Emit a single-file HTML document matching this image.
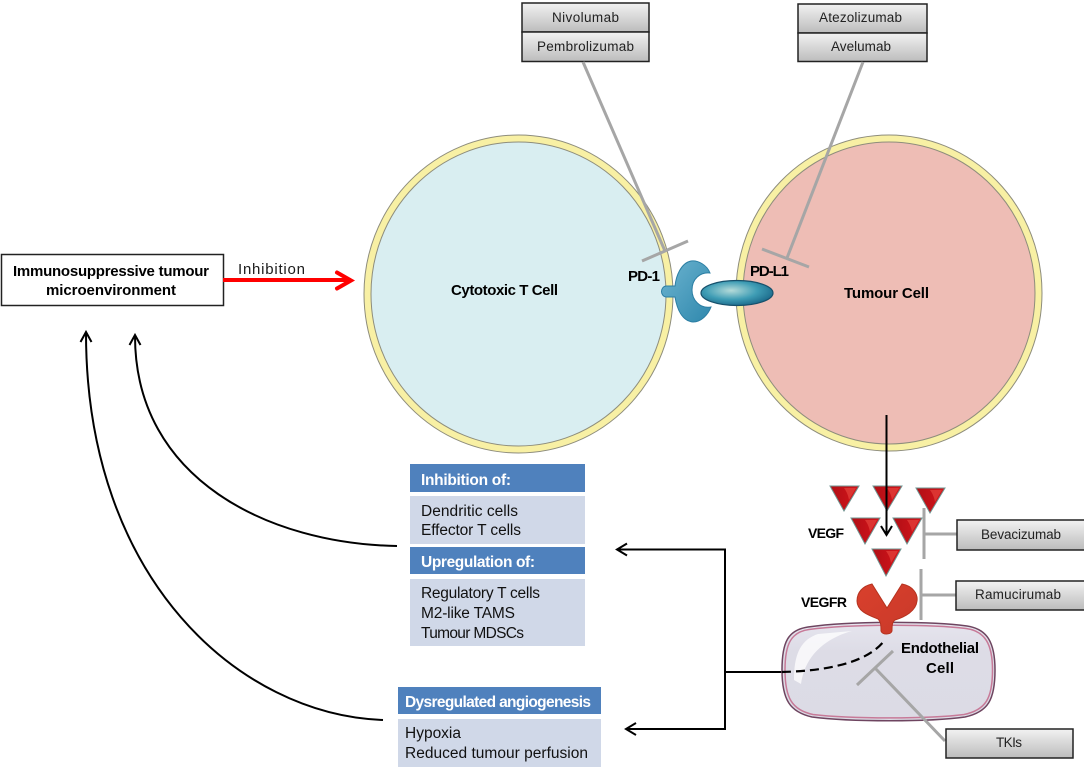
<!DOCTYPE html>
<html>
<head>
<meta charset="utf-8">
<style>
html,body{margin:0;padding:0;background:#fff;width:1084px;height:770px;overflow:hidden}
svg{display:block}
text{font-family:"Liberation Sans",sans-serif;font-size:15px;fill:#1a1a1a}
.b{font-weight:bold;fill:#000;font-size:15px}
.v{font-weight:bold;fill:#000;font-size:14px}
.w{font-weight:bold;fill:#fff;font-size:15.5px}
.d{font-size:15.5px;fill:#111}
.g{font-size:13.5px;fill:#222}
.gl{stroke:#a6a6a6;stroke-width:3;fill:none}
.k{stroke:#000;stroke-width:2;fill:none}
.tri{fill:url(#tg);stroke:#6f9491;stroke-width:1}
.hl{fill:#e2403a;opacity:.75}
.box{fill:url(#bg);stroke:#222;stroke-width:1.5}
</style>
</head>
<body>
<svg width="1084" height="770" viewBox="0 0 1084 770" xmlns="http://www.w3.org/2000/svg">
<defs>
<linearGradient id="bg" x1="0" y1="0" x2="0" y2="1"><stop offset="0" stop-color="#f2f2f2"/><stop offset="1" stop-color="#bcbcbc"/></linearGradient>
<linearGradient id="tg" x1="0" y1="0" x2="1" y2="0"><stop offset="0" stop-color="#b00f16"/><stop offset="1" stop-color="#d5141a"/></linearGradient>
<linearGradient id="cellg" x1="0" y1="0" x2="0" y2="1"><stop offset="0" stop-color="#e6e5ee"/><stop offset="0.3" stop-color="#dddce6"/><stop offset="1" stop-color="#dcdbe5"/></linearGradient>
<radialGradient id="ell" cx="0.42" cy="0.4" r="0.6"><stop offset="0" stop-color="#b5dbd9"/><stop offset="0.6" stop-color="#3f9db5"/><stop offset="1" stop-color="#1f6f8f"/></radialGradient>
<linearGradient id="rec" x1="0" y1="0" x2="1" y2="1"><stop offset="0" stop-color="#6db4d0"/><stop offset="1" stop-color="#2f88ad"/></linearGradient>
<linearGradient id="vr" x1="0" y1="0" x2="1" y2="1"><stop offset="0" stop-color="#d9402c"/><stop offset="1" stop-color="#c9392a"/></linearGradient>
</defs>

<!-- cells -->
<ellipse cx="518.500" cy="294" rx="151" ry="155.500" fill="#d9eef1" stroke="#f8f0a4" stroke-width="7"/>
<ellipse cx="518.500" cy="294" rx="154.500" ry="159" fill="none" stroke="#8e8d7c" stroke-width="1"/>
<ellipse cx="518.500" cy="294" rx="147.500" ry="152" fill="none" stroke="#8e8d7c" stroke-width="1"/>
<ellipse cx="889" cy="293" rx="149.500" ry="154.500" fill="#eebdb5" stroke="#f8f0a4" stroke-width="7"/>
<ellipse cx="889" cy="293" rx="153" ry="158" fill="none" stroke="#8e8d7c" stroke-width="1"/>
<ellipse cx="889" cy="293" rx="146" ry="151" fill="none" stroke="#8e8d7c" stroke-width="1"/>

<!-- top drug boxes -->
<rect class="box" x="522" y="3" width="127" height="29"/>
<rect class="box" x="522" y="32" width="127" height="29.5"/>
<rect class="box" x="798" y="4" width="129" height="29"/>
<rect class="box" x="798" y="33" width="129" height="28.5"/>
<text class="g" x="552" y="22" textLength="67">Nivolumab</text>
<text class="g" x="537" y="51" textLength="97">Pembrolizumab</text>
<text class="g" x="819" y="22" textLength="83">Atezolizumab</text>
<text class="g" x="831" y="51" textLength="60">Avelumab</text>

<!-- inhibition lines -->
<path class="gl" d="M583 62L665 251M642 261L688 241M863 62L787 258M762 249L809 267"/>

<!-- PD-1 / PD-L1 -->
<path d="M710 273C707 265 698 260 691 261C681 263 676 276 675 286L666 286C660 287 660 296 666 297L675 297C677 309 682 321 693 322C701 322 708 315 711 307C700 309 692 300 692 290C692 279 700 272 710 273Z" fill="url(#rec)" stroke="#2b7ea3" stroke-width="1"/>
<ellipse cx="737" cy="293" rx="36" ry="12.500" fill="url(#ell)" stroke="#17506b" stroke-width="1.200"/>

<!-- cell labels -->
<text class="b" x="451" y="295" textLength="107">Cytotoxic T Cell</text>
<text class="b" x="844" y="298" textLength="85">Tumour Cell</text>
<text class="b" x="628" y="281" textLength="32">PD-1</text>
<text class="b" x="750" y="276" textLength="39">PD-L1</text>

<!-- left box -->
<rect x="1.500" y="254.500" width="222" height="51" fill="#fff" stroke="#222" stroke-width="1.500"/>
<text class="b" x="13" y="276" textLength="196">Immunosuppressive tumour</text>
<text class="b" x="46" y="295" textLength="130">microenvironment</text>
<text x="238" y="274" textLength="67">Inhibition</text>
<path d="M223 280H351" stroke="#f00" stroke-width="4" fill="none"/>
<path d="M337 272.500L351 280.500L337 288.500" stroke="#f00" stroke-width="4" fill="none" stroke-linecap="round"/>

<!-- panels -->
<rect x="410" y="464" width="175" height="28" fill="#4f81bd"/>
<rect x="410" y="496" width="175" height="48" fill="#d0d8e8"/>
<rect x="410" y="547" width="175" height="27" fill="#4f81bd"/>
<rect x="410" y="579" width="175" height="67" fill="#d0d8e8"/>
<rect x="398" y="687" width="203" height="27" fill="#4f81bd"/>
<rect x="398" y="719" width="203" height="48" fill="#d0d8e8"/>
<text class="w" x="421" y="485" textLength="90">Inhibition of:</text>
<text class="d" x="421" y="516" textLength="97">Dendritic cells</text>
<text class="d" x="421" y="535" textLength="100">Effector T cells</text>
<text class="w" x="421" y="567" textLength="114">Upregulation of:</text>
<text class="d" x="421" y="598" textLength="119">Regulatory T cells</text>
<text class="d" x="421" y="618" textLength="94">M2-like TAMS</text>
<text class="d" x="421" y="638" textLength="103">Tumour MDSCs</text>
<text class="w" x="405" y="707" textLength="186">Dysregulated angiogenesis</text>
<text class="d" x="405" y="738" textLength="56">Hypoxia</text>
<text class="d" x="405" y="758" textLength="183">Reduced tumour perfusion</text>

<!-- curved arrows -->
<path class="k" d="M397 546C270 544 135 480 135 336"/>
<path class="k" d="M129.500 345L135 335L140.500 345"/>
<path class="k" d="M383 720C240 715 86 580 86 333"/>
<path class="k" d="M80.500 342L86 332L91.500 342"/>

<!-- bracket -->
<path class="k" d="M617 549.500H725V729H626M725 672H782"/>
<path class="k" d="M627 543.500L617 549.500L627 555.500"/>
<path class="k" d="M636 723L626 729L636 735"/>

<!-- endothelial cell -->
<path d="M782 670C782 642 788 630 808 627C850 621 930 621 967 626C987 629 995 642 995 670C995 700 988 712 965 717C930 722 850 722 812 717C790 712 782 700 782 670Z" fill="url(#cellg)" stroke="#6e4560" stroke-width="1.500"/>
<path d="M785 670C785 644 791 632 809 629.500C850 624 930 624 966 628.500C985 631 992.500 644 992.500 670C992.500 698 986 710 964 714.500C930 719 850 719 813 714.500C792 710 785 698 785 670Z" fill="none" stroke="#c77a98" stroke-width="1.500"/>
<path d="M794 680C794 655 800 640 818 634L852 631C826 638 805 655 801 684Z" fill="#fff" opacity=".75"/>
<path d="M782 672C820 671 865 665 884 641" fill="none" stroke="#000" stroke-width="2.200" stroke-dasharray="9 5"/>
<text class="b" x="901" y="653" textLength="78">Endothelial</text>
<text class="b" x="926" y="673" textLength="28">Cell</text>

<!-- VEGF triangles -->
<path class="tri" d="M830 486H859L844 511Z"/><path class="hl" d="M844 488H856L849 500C848 494 846 491 844 488Z"/>
<path class="tri" d="M873 486H902L887 511Z"/><path class="hl" d="M887 488H899L892 500C891 494 889 491 887 488Z"/>
<path class="tri" d="M916 488H945L930 513Z"/><path class="hl" d="M930 490H942L935 502C934 496 932 493 930 490Z"/>
<path class="tri" d="M851 518H880L865 544Z"/><path class="hl" d="M865 520H877L870 532C869 526 867 523 865 520Z"/>
<path class="tri" d="M893 518H922L907 544Z"/><path class="hl" d="M907 520H919L912 532C911 526 909 523 907 520Z"/>
<path class="tri" d="M872 549H901L886 576Z"/><path class="hl" d="M886 551H898L891 563C890 557 888 554 886 551Z"/>
<text class="v" x="808" y="538" textLength="36">VEGF</text>
<text class="v" x="801" y="607" textLength="46">VEGFR</text>

<!-- VEGF arrow -->
<path class="k" d="M886.500 415V535"/>
<path class="k" d="M881 526L886.500 535L892 526"/>

<!-- VEGFR -->
<path d="M872 584L887 608L902 584C913 586 918 594 917 601C916 611 905 617 895 620C892 622 892 626 892 631C891 635 882 635 881 631C881 626 881 622 878 619C868 615 857 611 857 601C857 592 863 586 872 584Z" fill="url(#vr)" stroke="#b5331f" stroke-width="1"/>

<!-- right inhibitors -->
<path class="gl" d="M924 508V559M924 534H957M921 569V620M921 595H956M945 741L875 668M893 651L857 685"/>
<rect class="box" x="957" y="520" width="130" height="30"/>
<rect class="box" x="956" y="581" width="131" height="29"/>
<rect class="box" x="946" y="729" width="127" height="29"/>
<text class="g" x="981" y="539" textLength="80">Bevacizumab</text>
<text class="g" x="975" y="599" textLength="86">Ramucirumab</text>
<text class="g" x="996" y="747" textLength="26">TKIs</text>
</svg>
</body>
</html>
